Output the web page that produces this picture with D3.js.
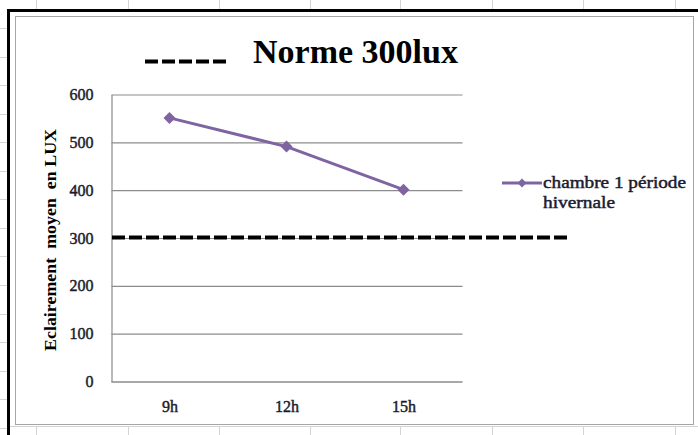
<!DOCTYPE html>
<html>
<head>
<meta charset="utf-8">
<script src="https://cdn.jsdelivr.net/npm/d3@7"></script>
<style>
  html, body { margin: 0; padding: 0; background: #fff; }
  svg { display: block; }
  text { font-family: "Liberation Serif", "Times New Roman", serif; }
  .dark { stroke: #1b1b2e; stroke-width: 0.45px; }
</style>
</head>
<body>
<svg id="chart" width="698" height="435"></svg>
<script>
// Data
const categories = ["9h", "12h", "15h"];
const seriesName = "chambre 1 période hivernale";
const seriesValues = [550, 490, 400];
const yTicks = [0, 100, 200, 300, 400, 500, 600];
const normValue = 300;
const titleText = "Norme 300lux";
const yLabel = "Eclairement  moyen  en LUX";

const svg = d3.select("#chart");
const W = 698, H = 435;

// Sheet cell grid around the embedded chart
const colXs = [36, 128, 219, 310, 400, 492, 583, 675];
const grid = svg.append("g").attr("stroke", "#d4d4d4").attr("stroke-width", 1);
colXs.forEach(cx => {
  grid.append("line").attr("x1", cx + 0.5).attr("x2", cx + 0.5).attr("y1", 0).attr("y2", 9);
  grid.append("line").attr("x1", cx + 0.5).attr("x2", cx + 0.5).attr("y1", 426).attr("y2", H);
});
for (let ry = 28; ry < H; ry += 28.55) {
  grid.append("line").attr("x1", 0).attr("x2", 7).attr("y1", Math.round(ry) + 0.5).attr("y2", Math.round(ry) + 0.5);
}
grid.append("line").attr("x1", 10).attr("x2", W).attr("y1", 426.5).attr("y2", 426.5);

// Selection frame (black) and chart area border (grey)
svg.append("rect").attr("x", 7).attr("y", 9).attr("width", W).attr("height", 3).attr("fill", "#000");
svg.append("rect").attr("x", 7).attr("y", 9).attr("width", 3).attr("height", H).attr("fill", "#000");
svg.append("rect").attr("x", 10).attr("y", 12).attr("width", W - 10).attr("height", 414).attr("fill", "#fff");
svg.append("rect")
  .attr("x", 15.5).attr("y", 16.5).attr("width", 678).attr("height", 408)
  .attr("fill", "#fff").attr("stroke", "#a6a6a6").attr("stroke-width", 1);

// Plot area
const plot = { left: 111, right: 462, top: 94, bottom: 381 };
const x = d3.scalePoint().domain(categories).range([plot.left, plot.right]).padding(0.5);
const y = d3.scaleLinear().domain([0, 600]).range([plot.bottom, plot.top]);

const tickColor = "#1b1b2e";

// Y axis with horizontal gridlines
const yAxis = svg.append("g")
  .attr("transform", `translate(${plot.left + 0.5},0.5)`)
  .call(d3.axisLeft(y).tickValues(yTicks).tickSize(-(plot.right - plot.left)).tickSizeOuter(0).tickPadding(18));
yAxis.select(".domain").attr("stroke", "#8c8c8c").attr("stroke-width", 1.2);
yAxis.selectAll(".tick line").attr("stroke", "#8c8c8c").attr("stroke-width", 1.2);
yAxis.selectAll(".tick text")
  .attr("class", "dark")
  .attr("fill", tickColor).attr("font-size", 16);

// X axis
const xAxis = svg.append("g")
  .attr("transform", `translate(0,${plot.bottom + 0.5})`)
  .call(d3.axisBottom(x).tickSize(0).tickSizeOuter(0).tickPadding(19));
xAxis.select(".domain").attr("stroke", "#8c8c8c").attr("stroke-width", 1.2);
xAxis.selectAll(".tick text")
  .attr("class", "dark")
  .attr("fill", tickColor).attr("font-size", 16);

// Y axis title
svg.append("text")
  .attr("transform", `translate(56,240) rotate(-90)`)
  .attr("text-anchor", "middle")
  .attr("font-size", 17).attr("font-weight", "bold").attr("fill", "#000")
  .attr("textLength", 222).attr("lengthAdjust", "spacingAndGlyphs")
  .style("white-space", "pre")
  .text(yLabel);

// Norm reference line
const normY = y(normValue);
svg.append("line")
  .attr("x1", plot.left + 1).attr("x2", 567)
  .attr("y1", normY).attr("y2", normY)
  .attr("stroke", "#000").attr("stroke-width", 4)
  .attr("stroke-dasharray", "13,4");

// Series line
const purple = "#8064a2";
const pts = categories.map((c, i) => [x(c), y(seriesValues[i])]);
svg.append("path")
  .attr("d", d3.line()(pts))
  .attr("fill", "none").attr("stroke", purple).attr("stroke-width", 3)
  .attr("stroke-linejoin", "round");

const diamond = (cx, cy, r) => `M${cx},${cy - r}L${cx + r},${cy}L${cx},${cy + r}L${cx - r},${cy}Z`;
svg.selectAll(".marker").data(pts).enter().append("path")
  .attr("class", "marker")
  .attr("d", d => diamond(d[0], d[1], 6))
  .attr("fill", purple);

// Title with dashed key
svg.append("line")
  .attr("x1", 145).attr("x2", 227).attr("y1", 61.5).attr("y2", 61.5)
  .attr("stroke", "#000").attr("stroke-width", 4)
  .attr("stroke-dasharray", "13,4");
svg.append("text")
  .attr("x", 253).attr("y", 63)
  .attr("font-size", 33).attr("font-weight", "bold").attr("fill", "#000")
  .attr("textLength", 205).attr("lengthAdjust", "spacingAndGlyphs")
  .text(titleText);

// Legend
const lg = svg.append("g");
lg.append("line").attr("x1", 502).attr("x2", 542).attr("y1", 183).attr("y2", 183)
  .attr("stroke", purple).attr("stroke-width", 3);
lg.append("path").attr("d", diamond(522, 183, 4.5)).attr("fill", purple);
const words = seriesName.split(" ");
lg.append("text").attr("x", 543).attr("y", 188)
  .attr("class", "dark")
  .attr("font-size", 16).attr("fill", tickColor)
  .attr("textLength", 143).attr("lengthAdjust", "spacingAndGlyphs")
  .text(words.slice(0, 3).join(" "));
lg.append("text").attr("x", 543).attr("y", 208)
  .attr("class", "dark")
  .attr("font-size", 16).attr("fill", tickColor)
  .attr("textLength", 72).attr("lengthAdjust", "spacingAndGlyphs")
  .text(words.slice(3).join(" "));
</script>
</body>
</html>
